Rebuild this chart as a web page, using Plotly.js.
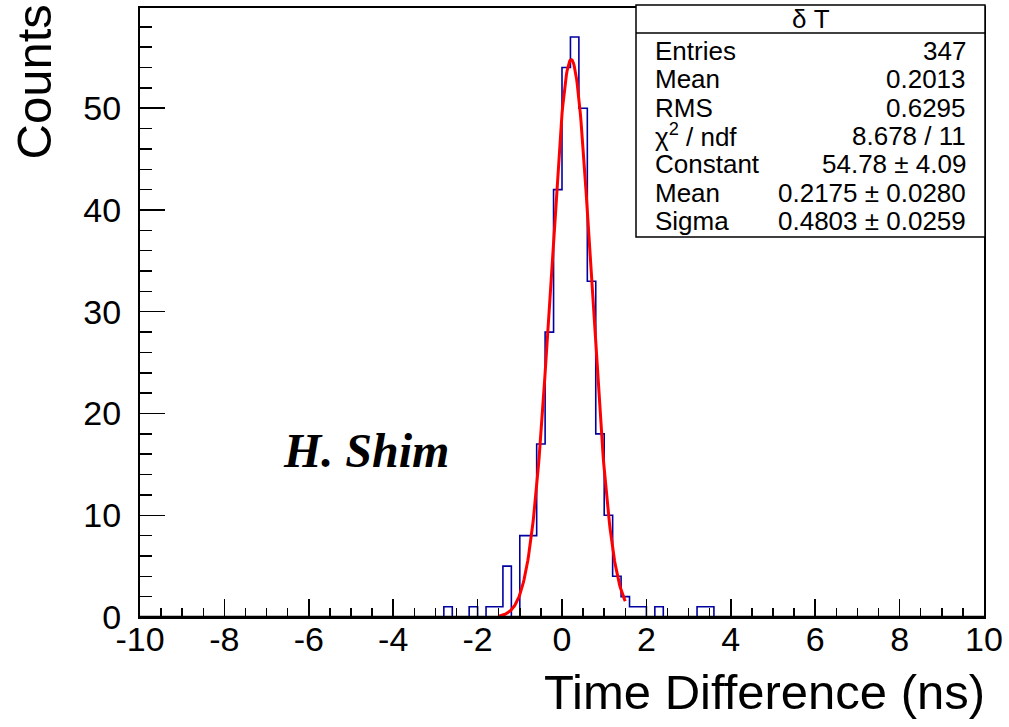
<!DOCTYPE html>
<html>
<head>
<meta charset="utf-8">
<script src="https://cdn.plot.ly/plotly-3.0.1.min.js"></script>
<style>html,body{margin:0;padding:0;background:#fff;}#chart{width:1009px;height:727px;}</style>
</head>
<body>
<div id="chart"></div>
<script>
// ---- data ----
const binLowEdges = [-2.8, -2.2, -1.8, -1.6, -1.4, -1.0, -0.8, -0.6, -0.4, -0.2, 0.0, 0.2, 0.4, 0.6, 0.8, 1.0, 1.2, 1.4, 1.6, 1.8, 2.2, 3.2, 3.4];
const binCounts   = [1, 1, 1, 1, 5, 8, 8, 17, 28, 42, 54, 57, 50, 33, 18, 10, 4, 2, 1, 1, 1, 1, 1];
const histMin = -10, histMax = 10, nBins = 100;
const xTickLabels = ["-10","-8","-6","-4","-2","0","2","4","6","8","10"];
const xTickValues = [-10,-8,-6,-4,-2,0,2,4,6,8,10];
const yTickValues = [0,10,20,30,40,50];
const yTickLabels = ["0","10","20","30","40","50"];
const statNames  = ["Entries","Mean","RMS","χ<sup>2</sup> / ndf","Constant","Mean","Sigma"];
const statValues = ["347","0.2013","0.6295","8.678 / 11","54.78 ± 4.09","0.2175 ± 0.0280","0.4803 ± 0.0259"];
const statTitle = "δ T";
const fitConstant = 54.78, fitMean = 0.2175, fitSigma = 0.4803;
const fitRange = [-1.5, 1.5];

// ---- build full histogram ----
const bw = (histMax - histMin) / nBins;
const full = new Array(nBins).fill(0);
binLowEdges.forEach((e, i) => {
  const k = Math.round((e - histMin) / bw);
  full[k] = binCounts[i];
});
const hx = [], hy = [];
for (let i = 0; i < nBins; i++) { hx.push(histMin + i * bw); hy.push(full[i]); }
hx.push(histMax); hy.push(full[nBins - 1]);

// fit curve from the fit parameters shown in the stats box
const fx = [], fy = [];
const nf = 200;
for (let i = 0; i <= nf; i++) {
  const x = fitRange[0] + (fitRange[1] - fitRange[0]) * i / nf;
  fx.push(x);
  fy.push(fitConstant * Math.exp(-0.5 * Math.pow((x - fitMean) / fitSigma, 2)));
}

const FONT = "Liberation Sans, Arial, Helvetica, sans-serif";

// pixel helpers for paper coordinates
const L = 140, R = 25, T = 8, B = 110, W = 1009, H = 727;
const pw = W - L - R, ph = H - T - B;
const px = v => (v - L) / pw;
const py = v => (H - B - v) / ph;

const annotations = [];
annotations.push({xref:'paper', yref:'paper', x: px(811), y: py(19), text: statTitle, showarrow:false,
  xanchor:'center', yanchor:'middle', font:{family:FONT, size:26, color:'#000'}});
statNames.forEach((n, i) => {
  const yy = 51 + i * 28.33;
  annotations.push({xref:'paper', yref:'paper', x: px(653), y: py(yy), text: n, showarrow:false,
    xanchor:'left', yanchor:'middle', font:{family:FONT, size:26, color:'#000'}});
  annotations.push({xref:'paper', yref:'paper', x: px(968), y: py(yy), text: statValues[i], showarrow:false,
    xanchor:'right', yanchor:'middle', font:{family:FONT, size:26, color:'#000'}});
});
annotations.push({xref:'paper', yref:'paper', x: px(34), y: py(3), text: 'Counts', showarrow:false,
  textangle:-90, xanchor:'center', yanchor:'top', font:{family:FONT, size:49, color:'#000'}});
annotations.push({xref:'paper', yref:'paper', x: px(987), y: py(692), text: 'Time Difference (ns)', showarrow:false,
  xanchor:'right', yanchor:'middle', font:{family:FONT, size:49, color:'#000'}});
annotations.push({xref:'paper', yref:'paper', x: px(281), y: py(450), text: '<b><i>H. Shim</i></b>', showarrow:false,
  xanchor:'left', yanchor:'middle', font:{family:'Liberation Serif, Times New Roman, serif', size:48, color:'#000'}});

const traces = [
  {x: hx, y: hy, type:'scatter', mode:'lines', line:{shape:'hv', color:'#0000a0', width:1.6}, hoverinfo:'skip'},
  {x: fx, y: fy, type:'scatter', mode:'lines', line:{color:'#ff0000', width:3}, hoverinfo:'skip'}
];

const layout = {
  width: W, height: H,
  margin: {l:L, r:R, t:T, b:B, pad:0},
  paper_bgcolor:'#fff', plot_bgcolor:'#fff',
  showlegend:false,
  font:{family:FONT, color:'#000'},
  xaxis: {
    range:[histMin, histMax], tickmode:'array', tickvals:xTickValues, ticktext:xTickLabels,
    ticks:'inside', ticklen:18, tickwidth:1.5, tickcolor:'#000',
    minor:{dtick:0.5, ticks:'inside', ticklen:9, tickwidth:1.5, tickcolor:'#000', showgrid:false},
    showgrid:false, zeroline:false, showline:true, linecolor:'#000', linewidth:2, mirror:true,
    tickfont:{family:FONT, size:34, color:'#000'}, ticklabelstandoff:-9
  },
  yaxis: {
    range:[0, 59.85], tickmode:'array', tickvals:yTickValues, ticktext:yTickLabels,
    ticks:'inside', ticklen:25, tickwidth:1.5, tickcolor:'#000',
    minor:{dtick:2, ticks:'inside', ticklen:12, tickwidth:1.5, tickcolor:'#000', showgrid:false},
    showgrid:false, zeroline:false, showline:true, linecolor:'#000', linewidth:2, mirror:true,
    tickfont:{family:FONT, size:34, color:'#000'}, ticklabelstandoff:10
  },
  shapes: [
    {type:'line', xref:'paper', yref:'paper', x0:0, x1:1, y0:0, y1:0,
     line:{color:'#000', width:2.5}, layer:'above'},
    {type:'rect', xref:'paper', yref:'paper', x0:px(636), x1:px(985), y0:py(237), y1:py(5),
     line:{color:'#000', width:1.5}, fillcolor:'#fff', layer:'above'},
    {type:'line', xref:'paper', yref:'paper', x0:px(636), x1:px(985), y0:py(33), y1:py(33),
     line:{color:'#000', width:1.5}, layer:'above'}
  ],
  annotations: annotations
};

Plotly.newPlot('chart', traces, layout, {displayModeBar:false, staticPlot:true});
</script>
</body>
</html>
